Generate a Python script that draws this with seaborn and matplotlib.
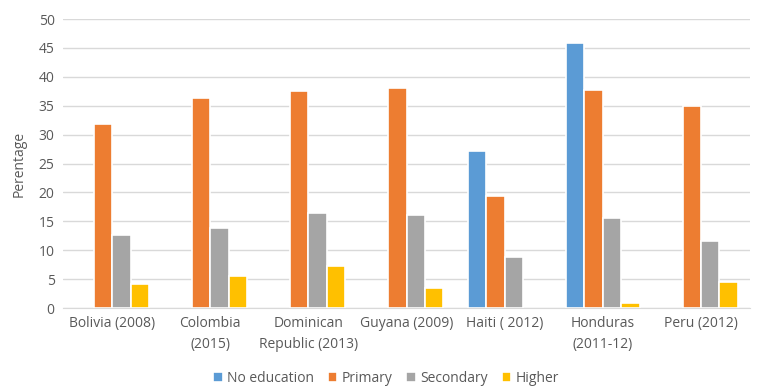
import matplotlib.pyplot as plt
import seaborn as sns
import pandas as pd
import numpy as np

# data
countries = ['Bolivia (2008)', 'Colombia\n(2015)', 'Dominican\nRepublic (2013)',
             'Guyana (2009)', 'Haiti ( 2012)', 'Honduras\n(2011-12)', 'Peru (2012)']
levels = ['No education', 'Primary', 'Secondary', 'Higher']
no_education = [np.nan, np.nan, np.nan, np.nan, 27.1, 45.8, np.nan]
primary = [31.9, 36.4, 37.6, 38.1, 19.4, 37.8, 34.9]
secondary = [12.7, 13.8, 16.5, 16.1, 8.8, 15.6, 11.6]
higher = [4.2, 5.5, 7.3, 3.5, np.nan, 0.9, 4.5]
colors = ['#5B9BD5', '#ED7D31', '#A5A5A5', '#FFC000']

df = pd.DataFrame({
    'country': countries * 4,
    'level': [l for l in levels for _ in countries],
    'value': no_education + primary + secondary + higher,
})

sns.set_style('white')
plt.rcParams['font.family'] = ['Open Sans', 'DejaVu Sans']

fig = plt.figure(figsize=(7.6, 3.88), dpi=100)
ax = fig.add_axes([0.083, 0.206, 0.904, 0.745])

sns.barplot(data=df, x='country', y='value', hue='level', hue_order=levels,
            palette=colors, width=0.75, edgecolor='white', linewidth=1.2,
            saturation=1, ax=ax, legend=True)

ax.set_ylim(0, 50)
ax.set_yticks(range(0, 51, 5))
ax.set_xlim(-0.5, len(countries) - 0.5)
ax.yaxis.grid(True, color='#D9D9D9', linewidth=1)
ax.set_axisbelow(True)
for s in ['top', 'right', 'left']:
    ax.spines[s].set_visible(False)
ax.spines['bottom'].set_color('#D9D9D9')
ax.tick_params(axis='both', length=0, labelsize=10, colors='#595959', pad=6)
for t in ax.get_xticklabels():
    t.set_linespacing(1.5)
ax.set_xlabel('')
ax.set_ylabel('Perentage', fontsize=10, color='#595959', labelpad=9)

ax.legend(loc='upper center', bbox_to_anchor=(0.47, -0.175), ncol=4, frameon=False,
          fontsize=10, handlelength=0.7, handleheight=0.7, handletextpad=0.3,
          columnspacing=1.0, labelcolor='#595959')

plt.savefig('out.png', dpi=100)
